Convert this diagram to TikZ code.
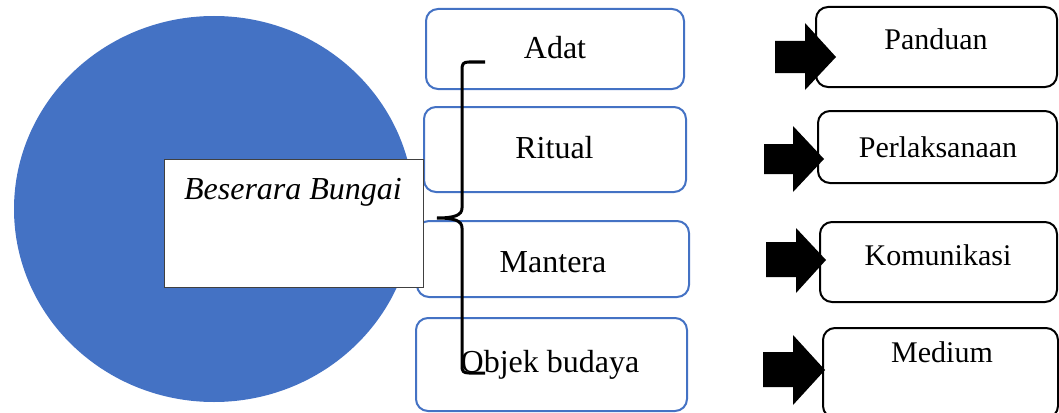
\documentclass[tikz,border=0pt]{standalone}
\usepackage{fontspec}
\setmainfont{Liberation Serif}
\usetikzlibrary{shapes.geometric}
\definecolor{officeblue}{HTML}{4472C4}
\definecolor{rectgray}{HTML}{404040}
\begin{document}
\begin{tikzpicture}[x=1pt,y=-1pt,
  bluebox/.style={draw=officeblue, line width=2pt, rounded corners=12pt, fill=white, inner sep=0pt},
  blackbox/.style={draw=black, line width=2pt, rounded corners=12pt, fill=white, inner sep=0pt},
  lefttxt/.style={anchor=base, font=\fontsize{32}{38}\selectfont, inner sep=0pt},
  righttxt/.style={anchor=base, font=\fontsize{30}{36}\selectfont, inner sep=0pt},
  blockarrow/.style={fill=black},
  bracepath/.style={draw=black, line width=3pt}]
\useasboundingbox (0,0) rectangle (1059,412);
% circle
\node[ellipse, fill=officeblue, inner sep=0pt, minimum width=400pt, minimum height=386pt] (circ) at (214,209) {};
% left boxes
\node[bluebox, minimum width=258pt, minimum height=80pt] (adat) at (555,49) {};
\node[bluebox, minimum width=262pt, minimum height=85pt] (ritual) at (555,149.5) {};
\node[bluebox, minimum width=272pt, minimum height=76pt] (mantera) at (553,259) {};
\node[bluebox, minimum width=271pt, minimum height=93pt] (objek) at (551.5,364.5) {};
% white rectangle
\node[draw=rectgray, line width=1pt, fill=white, inner sep=0pt, minimum width=259pt, minimum height=128pt] (main) at (293.5,223) {};
% right boxes
\node[blackbox, minimum width=241pt, minimum height=80pt] (panduan) at (936.5,47) {};
\node[blackbox, minimum width=239pt, minimum height=72pt] (perlak) at (937.5,147) {};
\node[blackbox, minimum width=237pt, minimum height=80pt] (komun) at (938.5,262) {};
\node[blackbox, minimum width=235pt, minimum height=90pt] (medium) at (940.5,373) {};
% block arrows
\fill[blockarrow] (775,41) -- (805,41) -- (805,23) -- (836,57) -- (805,90) -- (805,73) -- (775,73) -- cycle;
\fill[blockarrow] (764,144) -- (793,144) -- (793,126) -- (824,159) -- (793,192) -- (793,174) -- (764,174) -- cycle;
\fill[blockarrow] (766,242) -- (796,242) -- (796,228) -- (826,260) -- (796,293) -- (796,277) -- (766,277) -- cycle;
\fill[blockarrow] (763,352) -- (793,352) -- (793,335) -- (825,370) -- (793,405) -- (793,387) -- (763,387) -- cycle;
% texts
\node[lefttxt, font=\fontsize{32}{38}\selectfont\itshape] (maintxt) at (293,199) {Beserara Bungai};
\node[lefttxt] (adattxt) at (555,59) {Adat};
\node[lefttxt] (ritualtxt) at (554.5,158) {Ritual};
\node[lefttxt] (manteratxt) at (553,272) {Mantera};
\node[lefttxt] (objektxt) at (550,372) {Objek budaya};
\node[righttxt] (pandtxt) at (936,50) {Panduan};
\node[righttxt] (perltxt) at (938,157) {Perlaksanaan};
\node[righttxt] (komtxt) at (938,265) {Komunikasi};
\node[righttxt] (medtxt) at (942,362) {Medium};
% brace
\coordinate (btop) at (485,62);
\coordinate (btip) at (437,218);
\coordinate (bbot) at (485,373);
\path[bracepath] (btop) -- (469,62) .. controls (463,62) and (462,64) .. (462,70) -- (462,208)
  .. controls (462,215) and (455,218) .. (btip)
  .. controls (455,218) and (462,221) .. (462,228) -- (462,366)
  .. controls (462,371) and (463,373) .. (469,373) -- (bbot);
\end{tikzpicture}
\end{document}
